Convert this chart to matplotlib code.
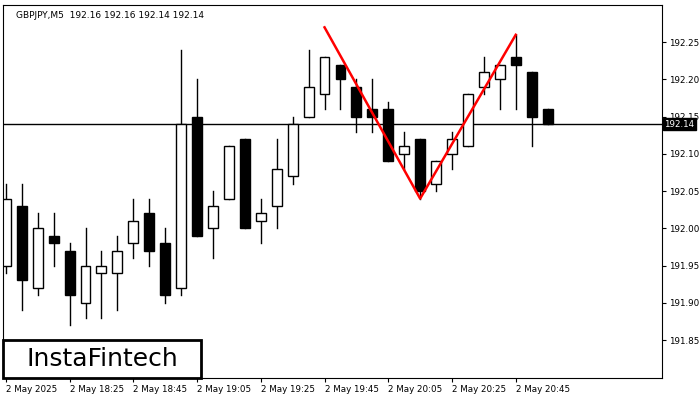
import matplotlib
matplotlib.use("Agg")
import matplotlib.pyplot as plt
from matplotlib.patches import Rectangle

opens  = [191.95,192.03,191.92,191.99,191.97,191.90,191.94,191.94,191.98,192.02,191.98,191.92,192.15,192.00,192.04,192.12,192.01,192.03,192.07,192.15,192.18,192.22,192.19,192.16,192.16,192.10,192.12,192.06,192.10,192.11,192.19,192.20,192.23,192.21,192.16]
closes = [192.04,191.93,192.00,191.98,191.91,191.95,191.95,191.97,192.01,191.97,191.91,192.14,191.99,192.03,192.11,192.00,192.02,192.08,192.14,192.19,192.23,192.20,192.15,192.15,192.09,192.11,192.05,192.09,192.12,192.18,192.21,192.22,192.22,192.15,192.14]
highs  = [192.06,192.06,192.02,192.02,191.98,192.00,191.97,191.99,192.04,192.04,192.00,192.24,192.20,192.05,192.11,192.12,192.04,192.12,192.15,192.24,192.23,192.22,192.20,192.20,192.17,192.13,192.12,192.09,192.13,192.18,192.23,192.22,192.26,192.21,192.16]
lows   = [191.94,191.89,191.91,191.95,191.87,191.88,191.88,191.89,191.96,191.95,191.90,191.91,191.99,191.96,192.04,192.00,191.98,192.00,192.06,192.15,192.16,192.16,192.13,192.13,192.09,192.08,192.04,192.05,192.08,192.11,192.18,192.16,192.16,192.11,192.14]
tick_labels = ["2 May 2025","2 May 18:25","2 May 18:45","2 May 19:05","2 May 19:25","2 May 19:45","2 May 20:05","2 May 20:25","2 May 20:45"]
pattern_idx = [20, 26, 32]
pattern_px = [192.27, 192.04, 192.26]
last_price = 192.14
yticks = [191.85,191.90,191.95,192.00,192.05,192.10,192.15,192.20,192.25]

fig = plt.figure(figsize=(7,4), dpi=100)
ax = fig.add_axes([0.004, 0.055, 0.942, 0.9325])
w = 0.62
for i,(o,c,h,l) in enumerate(zip(opens,closes,highs,lows)):
    ax.plot([i,i],[l,h],color="black",lw=1,zorder=1)
    bull = c >= o
    ax.add_patch(Rectangle((i-w/2,min(o,c)),w,max(abs(c-o),0.002),
                 facecolor="white" if bull else "black",edgecolor="black",lw=1,zorder=2))
ax.plot(pattern_idx, pattern_px, color="#ff0000", lw=1.8, zorder=3)
ax.axhline(last_price, color="black", lw=1, zorder=0)
ax.set_xlim(-0.19, 41.19)
ax.set_ylim(191.799, 192.300)
ax.yaxis.tick_right()
ax.set_yticks(yticks)
ax.set_yticklabels([f"{v:.2f}" for v in yticks], fontsize=6.3)
ax.set_xticks(range(0, 36, 4))
ax.set_xticklabels(tick_labels, fontsize=6.3, ha="left")
ax.tick_params(axis="both", length=3, pad=2)
ax.text(1.003, last_price, f"{last_price:.2f}", transform=ax.get_yaxis_transform(),
        fontsize=6.3, color="white", va="center", ha="left",
        bbox=dict(boxstyle="square,pad=0.15", fc="black", ec="black"))
ax.text(0.02, 0.985, "GBPJPY,M5  192.16 192.16 192.14 192.14", transform=ax.transAxes,
        fontsize=6.5, va="top", ha="left")
fig.patches.append(Rectangle((0.0043, 0.055), 0.283, 0.095, transform=fig.transFigure,
                             fc="white", ec="black", lw=2, zorder=5))
fig.text(0.146, 0.102, "InstaFintech", fontsize=18, va="center", ha="center", zorder=6)
fig.savefig("out.png", dpi=100)
